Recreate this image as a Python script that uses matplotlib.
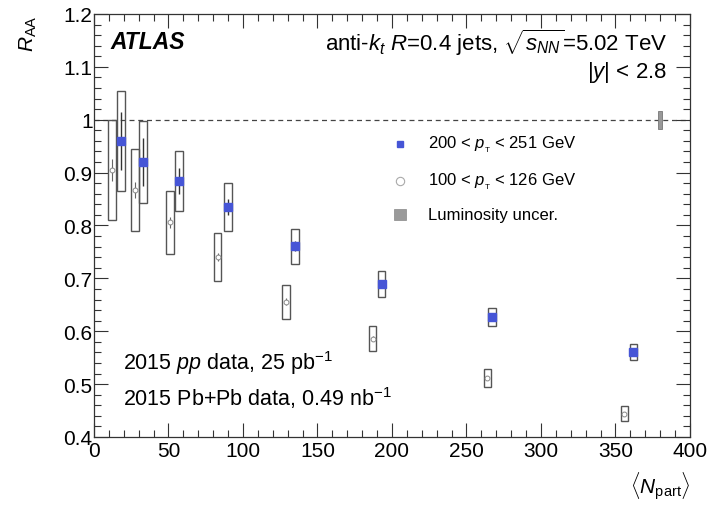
import numpy as np
import matplotlib
matplotlib.use('Agg')
import matplotlib.pyplot as plt
from matplotlib.patches import Rectangle
from matplotlib.ticker import MultipleLocator

plt.rcParams['font.family'] = ['Liberation Sans', 'DejaVu Sans']
plt.rcParams['mathtext.fontset'] = 'custom'
plt.rcParams['mathtext.rm'] = 'Liberation Sans'
plt.rcParams['mathtext.it'] = 'Liberation Sans:italic'
plt.rcParams['mathtext.bf'] = 'Liberation Sans:bold'

# 200 < pT < 251 GeV
npart_hi = [18, 33, 57, 90, 135, 193, 267, 362]
raa_hi = [0.960, 0.920, 0.884, 0.835, 0.761, 0.689, 0.627, 0.561]
stat_hi = [0.055, 0.045, 0.025, 0.015, 0.010, 0.008, 0.007, 0.008]
sys_hi = [0.095, 0.078, 0.057, 0.045, 0.033, 0.024, 0.017, 0.015]

# 100 < pT < 126 GeV
npart_lo = [12, 27.5, 51, 83, 129, 187, 264, 356]
raa_lo = [0.905, 0.867, 0.806, 0.740, 0.656, 0.586, 0.512, 0.444]
stat_lo = [0.020, 0.015, 0.010, 0.008, 0.006, 0.005, 0.004, 0.004]
sys_lo = [0.095, 0.077, 0.059, 0.045, 0.032, 0.023, 0.017, 0.014]

lumi_x = 380
lumi_unc = 0.017

blue = '#4655d6'
box_w = 5.0

fig = plt.figure(figsize=(7.13, 5.06), dpi=100)
ax = fig.add_axes([0.1318, 0.1344, 0.8359, 0.8360])

ax.plot([0, 400], [1, 1], color='#444444', lw=0.9, ls=(0, (4, 3)), zorder=1)
ax.add_patch(Rectangle((lumi_x - 1.2, 1 - lumi_unc), 2.4, 2 * lumi_unc,
                       facecolor='#999999', edgecolor='#777777', lw=0.6, zorder=2))

# systematic boxes
for x, y, s in zip(npart_lo, raa_lo, sys_lo):
    ax.add_patch(Rectangle((x - box_w / 2, y - s), box_w, 2 * s, facecolor='none',
                           edgecolor='#555555', lw=1.0, zorder=3))
for x, y, s in zip(npart_hi, raa_hi, sys_hi):
    ax.add_patch(Rectangle((x - box_w / 2, y - s), box_w, 2 * s, facecolor='none',
                           edgecolor='#555555', lw=1.0, zorder=3))

# statistical errors and markers
ax.errorbar(npart_lo, raa_lo, yerr=stat_lo, fmt='o', ms=3.5, mfc='white', mec='#888888',
            mew=0.7, ecolor='#666666', elinewidth=0.8, capsize=0, zorder=4)
ax.errorbar(npart_hi, raa_hi, yerr=stat_hi, fmt='s', ms=6, mfc=blue, mec=blue,
            ecolor='#333333', elinewidth=1.0, capsize=0, zorder=5)

ax.set_xlim(0, 400)
ax.set_ylim(0.4, 1.2)
ax.xaxis.set_major_locator(MultipleLocator(50))
ax.xaxis.set_minor_locator(MultipleLocator(10))
ax.yaxis.set_major_locator(MultipleLocator(0.1))
ax.yaxis.set_minor_locator(MultipleLocator(0.02))
ax.set_yticks([0.4, 0.5, 0.6, 0.7, 0.8, 0.9, 1.0, 1.1, 1.2])
ax.set_yticklabels(['0.4', '0.5', '0.6', '0.7', '0.8', '0.9', '1', '1.1', '1.2'])
ax.tick_params(which='both', direction='in', top=True, right=True, labelsize=15,
               color='#333333', width=0.8)
ax.tick_params(which='major', length=10)
ax.tick_params(which='minor', length=5)
ax.tick_params(axis='x', pad=3)
ax.tick_params(axis='y', pad=1)
for sp in ax.spines.values():
    sp.set_linewidth(0.9)
    sp.set_color('#333333')

ax.text(-0.11, 1.0, r'$R_{\mathrm{AA}}$', transform=ax.transAxes, rotation=90,
        ha='center', va='top', fontsize=15)
ax.text(1.0, -0.152, r'$\langle N_{\mathrm{part}}\rangle$', transform=ax.transAxes,
        ha='right', va='bottom', fontsize=15)

ax.text(0.027, 0.934, 'ATLAS', transform=ax.transAxes, fontsize=16.5,
        fontweight='bold', fontstyle='italic', va='center', ha='left')
ax.text(0.961, 0.934,
        r'anti-$k_{t}$ $R$=0.4 jets, $\sqrt{s_{\mathit{NN}}}$=5.02 TeV',
        transform=ax.transAxes, fontsize=16, ha='right', va='center')
ax.text(0.961, 0.865, r'$|y|$ < 2.8', transform=ax.transAxes, fontsize=16,
        ha='right', va='center')

ax.text(0.048, 0.178, r'2015 $pp$ data, 25 pb$^{\mathrm{-1}}$', transform=ax.transAxes,
        fontsize=15.5, ha='left', va='center')
ax.text(0.048, 0.095, r'2015 Pb+Pb data, 0.49 nb$^{\mathrm{-1}}$', transform=ax.transAxes,
        fontsize=15.5, ha='left', va='center')

# legend
leg_x = 0.513
txt_x = 0.560
ax.plot([leg_x], [0.693], transform=ax.transAxes, marker='s', ms=5, color=blue, ls='none')
ax.plot([leg_x], [0.605], transform=ax.transAxes, marker='o', ms=6, mfc='white',
        mec='#aaaaaa', mew=0.8, ls='none')
ax.add_patch(Rectangle((leg_x - 0.01, 0.513), 0.02, 0.026, transform=ax.transAxes,
                       facecolor='#9a9a9a', edgecolor='#888888', lw=0.5))
ax.text(txt_x, 0.693, r'200 < $p_{_{\mathrm{T}}}$ < 251 GeV', transform=ax.transAxes,
        fontsize=12, ha='left', va='center')
ax.text(txt_x, 0.605, r'100 < $p_{_{\mathrm{T}}}$ < 126 GeV', transform=ax.transAxes,
        fontsize=12, ha='left', va='center')
ax.text(txt_x, 0.526, 'Luminosity uncer.', transform=ax.transAxes,
        fontsize=12, ha='left', va='center')

fig.savefig('out.png', dpi=100)
